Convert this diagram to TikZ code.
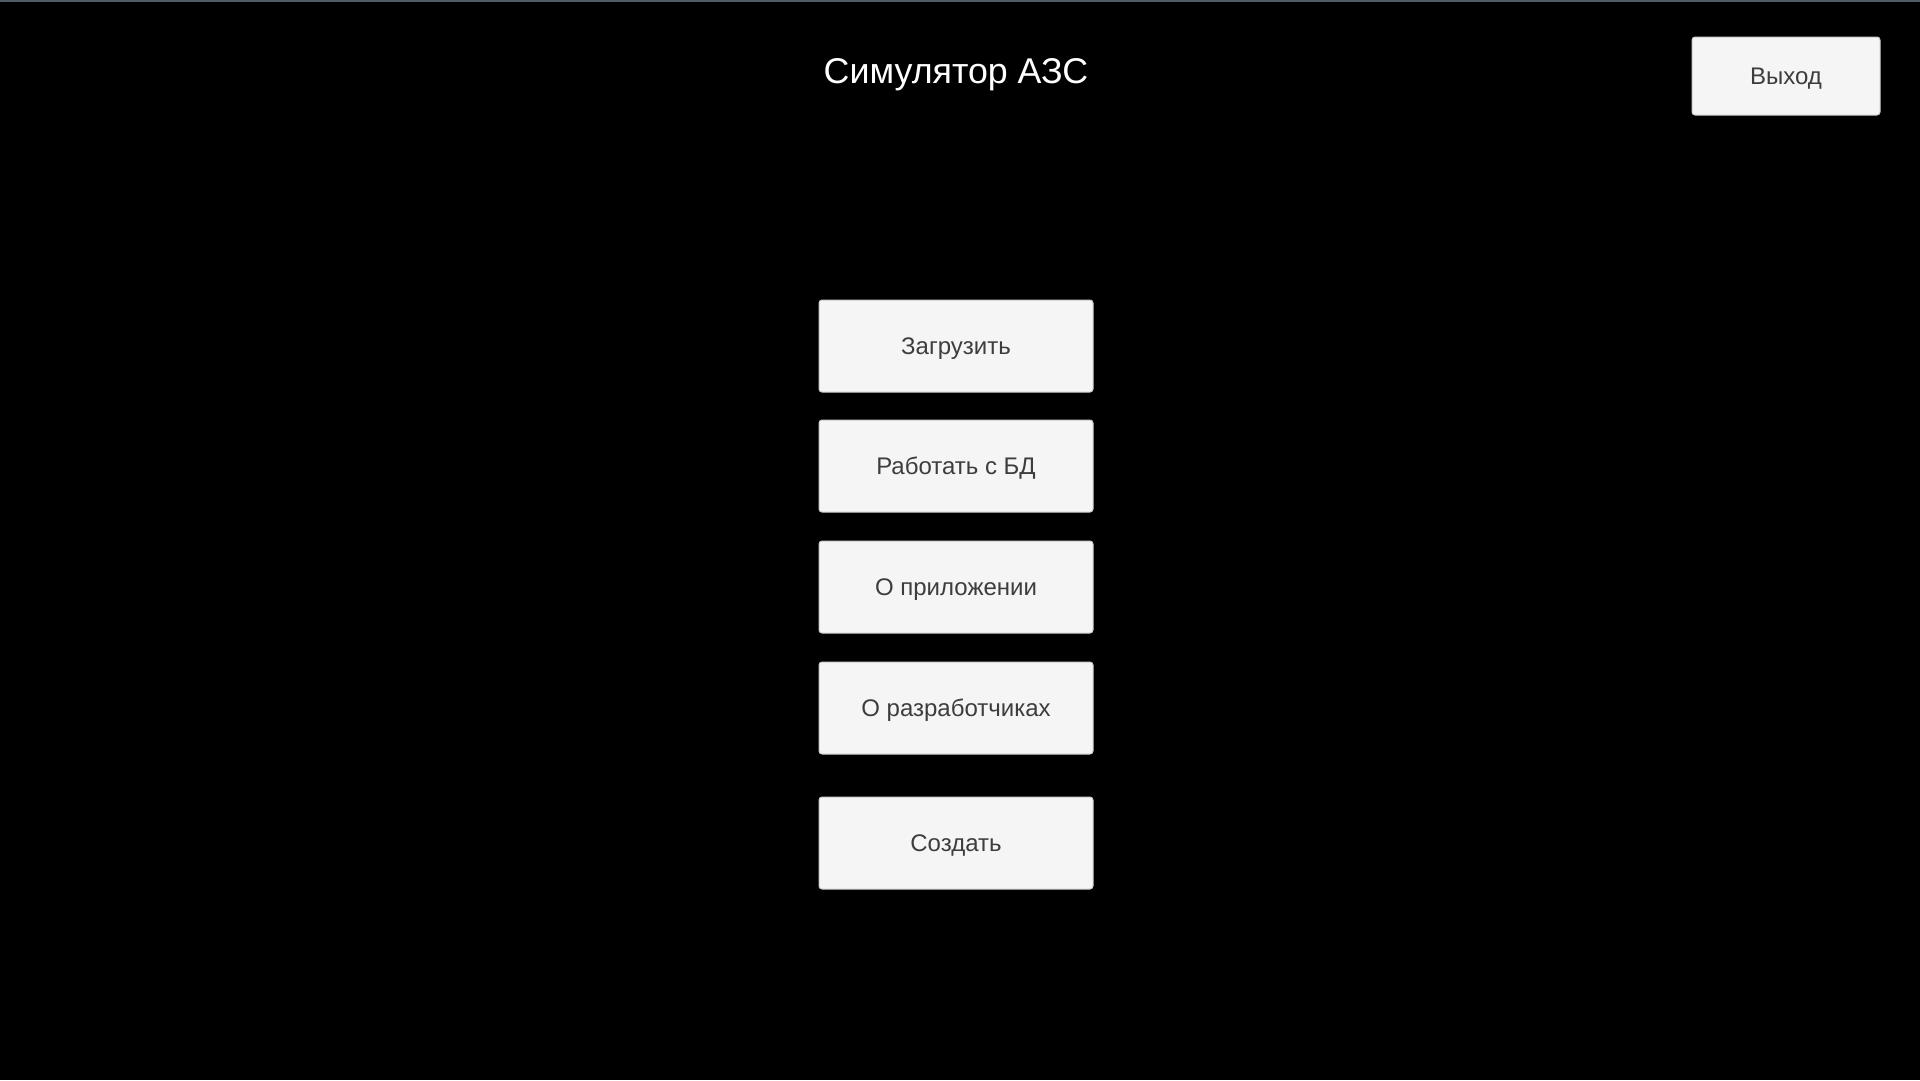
\documentclass[tikz,border=0pt]{standalone}
\usepackage{fontspec}
\setmainfont{Liberation Sans}
\begin{document}
\begin{tikzpicture}[x=1pt,y=-1pt,
  btn/.style={draw=black!20, line width=1pt, fill=black!4, rounded corners=3pt,
    minimum width=274pt, minimum height=92pt, inner sep=0pt, text=black!76,
    text height=17.2pt, text depth=0pt,
    font=\fontsize{24}{28}\selectfont},
  title/.style={text=white, font=\fontsize{35.8}{40}\selectfont, inner sep=0pt,
    text height=25.6pt, text depth=0pt}]
\fill[black] (0,0) rectangle (1920,1080);
\useasboundingbox (0,0) rectangle (1920,1080);
\fill[color={rgb,255:red,80;green,92;blue,102}] (0,0) rectangle (1920,1.6);
\node[title] (t) at (956,71) {Симулятор АЗС};
\node[btn, minimum width=188pt, minimum height=78pt] (exit) at (1786,76) {Выход};
\node[btn] (b1) at (956,346) {Загрузить};
\node[btn] (b2) at (956,466) {Работать с БД};
\node[btn] (b3) at (956,587) {О приложении};
\node[btn] (b4) at (956,708) {О разработчиках};
\node[btn] (b5) at (956,843) {Создать};
\end{tikzpicture}
\end{document}
